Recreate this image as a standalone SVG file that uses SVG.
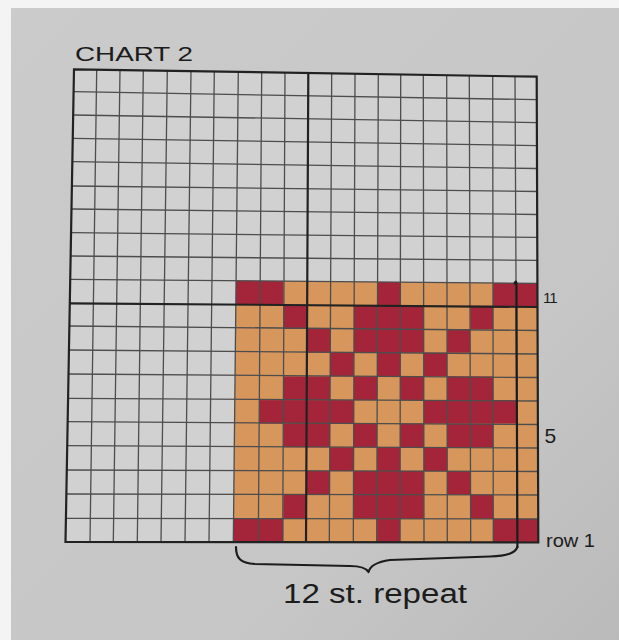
<svg xmlns="http://www.w3.org/2000/svg" width="619" height="640" viewBox="0 0 619 640">
  <defs>
    <linearGradient id="paper" x1="0" y1="0" x2="1" y2="1">
      <stop offset="0" stop-color="#cbcbcb"/>
      <stop offset="0.7" stop-color="#c6c6c6"/>
      <stop offset="1" stop-color="#bababa"/>
    </linearGradient>
  </defs>
  <style>
    .thin { fill: none; stroke: #4d4d4d; stroke-width: 1.3; }
    .thick { fill: none; stroke: #222; stroke-width: 2.2; }
    .r { fill: #a4253a; }
    .lbl { font-family: "Liberation Sans", "DejaVu Sans", sans-serif; fill: #1c1c1c; }
    .ink { fill: none; stroke: #1c1c1c; stroke-width: 2.2; stroke-linecap: round; stroke-linejoin: round; }
  </style>
  <rect x="0" y="0" width="619" height="640" fill="#f4f4f4"/>
  <rect x="11" y="8" width="608" height="632" fill="url(#paper)"/>

  <text class="lbl" x="75" y="61" font-size="21" textLength="118" lengthAdjust="spacingAndGlyphs">CHART 2</text>

  <g id="chart">
    <polygon points="74,69.3 536.7,76.7 538.3,542.5 65.5,542" fill="#d1d1d1"/>
  </g>

  <g id="repeat-block">
    <polygon points="236.1,280.7 537.6,283.3 538.3,542.5 233.3,542" fill="#d6965c"/>
    <rect class="r" x="235.9" y="280.9" width="47.4" height="24"/>
    <rect class="r" x="377.1" y="282" width="23.1" height="23.8"/>
    <rect class="r" x="493.1" y="283.1" width="44.8" height="23.6"/>
    <rect class="r" x="283.3" y="305.8" width="23.3" height="23.2"/>
    <rect class="r" x="353.8" y="305.8" width="70" height="23.2"/>
    <rect class="r" x="470.3" y="305.8" width="22.8" height="23.2"/>
    <rect class="r" x="306.6" y="329" width="23.4" height="23.7"/>
    <rect class="r" x="353.8" y="329" width="70" height="23.7"/>
    <rect class="r" x="447.1" y="329" width="23.2" height="23.7"/>
    <rect class="r" x="330" y="352.7" width="23.8" height="23.7"/>
    <rect class="r" x="377.1" y="352.7" width="23.1" height="23.7"/>
    <rect class="r" x="423.8" y="352.7" width="23.3" height="23.7"/>
    <rect class="r" x="283.3" y="376.4" width="46.7" height="23.7"/>
    <rect class="r" x="353.8" y="376.4" width="23.3" height="23.7"/>
    <rect class="r" x="400.2" y="376.4" width="23.6" height="23.7"/>
    <rect class="r" x="447.1" y="376.4" width="46" height="23.7"/>
    <rect class="r" x="259.3" y="400.1" width="94.5" height="23.5"/>
    <rect class="r" x="423.8" y="400.1" width="92.9" height="23.5"/>
    <rect class="r" x="283.3" y="423.6" width="46.7" height="23.7"/>
    <rect class="r" x="353.8" y="423.6" width="23.3" height="23.7"/>
    <rect class="r" x="400.2" y="423.6" width="23.6" height="23.7"/>
    <rect class="r" x="447.1" y="423.6" width="46" height="23.7"/>
    <rect class="r" x="330" y="447.3" width="23.8" height="23.7"/>
    <rect class="r" x="377.1" y="447.3" width="23.1" height="23.7"/>
    <rect class="r" x="423.8" y="447.3" width="23.3" height="23.7"/>
    <rect class="r" x="306.6" y="471" width="23.4" height="23.7"/>
    <rect class="r" x="353.8" y="471" width="70" height="23.7"/>
    <rect class="r" x="447.1" y="471" width="23.2" height="23.7"/>
    <rect class="r" x="283.3" y="494.7" width="23.3" height="24.1"/>
    <rect class="r" x="353.8" y="494.7" width="70" height="24.1"/>
    <rect class="r" x="470.3" y="494.7" width="22.8" height="24.1"/>
    <rect class="r" x="233.4" y="518.6" width="49.9" height="23.6"/>
    <rect class="r" x="377.1" y="518.8" width="23.1" height="23.5"/>
    <rect class="r" x="493.1" y="518.9" width="45.2" height="23.5"/>
  </g>

  <g id="grid-lines">
    <path class="thin" d="M96.7 69.7L90 542M120 70L113.3 542M143.3 70.4L137.3 542M167.3 70.8L161 542M191 71.2L185 542M214.3 71.5L209 542M238.3 71.9L233.3 542M261.7 72.3L258.3 542M285 72.6L282.7 542M331.7 73.4L329.3 542M355 73.7L353.3 542M378.3 74.1L376.7 542M400.7 74.5L400 542M423.3 74.9L424 542M446.7 75.2L447.3 542M469.3 75.6L470.7 542M492.7 76L493.3 542M515 76.3L517.3 542"/>
    <path class="thin" d="M73.6 91.7L536.8 99.7M73.2 115L536.9 122.6M72.8 138.3L536.9 145.6M72.4 161.7L537 168.5M72 186L537.1 191.5M71.6 209L537.2 214.5M71.2 232.7L537.3 237.4M70.8 256L537.3 260.4M70.3 279.3L537.4 283.3M69.4 326L537.6 330.5M68.9 350L537.7 354M68.5 374L537.7 377.5M68.1 398.3L537.8 401M67.7 421.7L537.9 424.5M67.2 445.7L538 448M66.8 470L538.1 471.5M66.4 494L538.1 495M66 518.3L538.2 519"/>
    <path class="thick" d="M308.3 73L306 542M69.8 303.3L537.5 307"/>
    <polygon class="thick" points="74,69.3 536.7,76.7 538.3,542.5 65.5,542"/>
  </g>

  <g id="repeat-marker">
    <path class="ink" d="M514.5 283.5Q516 280 516.4 283L517.4 547"/>
    <path class="ink" d="M236 547C236 558 240 563 255 564L350 566C361 566 366 568 368.5 572C370 566 376 562 390 560L490 556.5C508 556 515 553 517.4 547"/>
  </g>

  <g id="labels">
    <text class="lbl" x="543" y="303" font-size="15" letter-spacing="-1">11</text>
    <text class="lbl" x="544.5" y="443" font-size="21">5</text>
    <text class="lbl" x="546" y="546.5" font-size="19" textLength="49" lengthAdjust="spacingAndGlyphs">row 1</text>
    <text class="lbl" x="283" y="603" font-size="27" textLength="184" lengthAdjust="spacingAndGlyphs">12 st. repeat</text>
  </g>
</svg>
